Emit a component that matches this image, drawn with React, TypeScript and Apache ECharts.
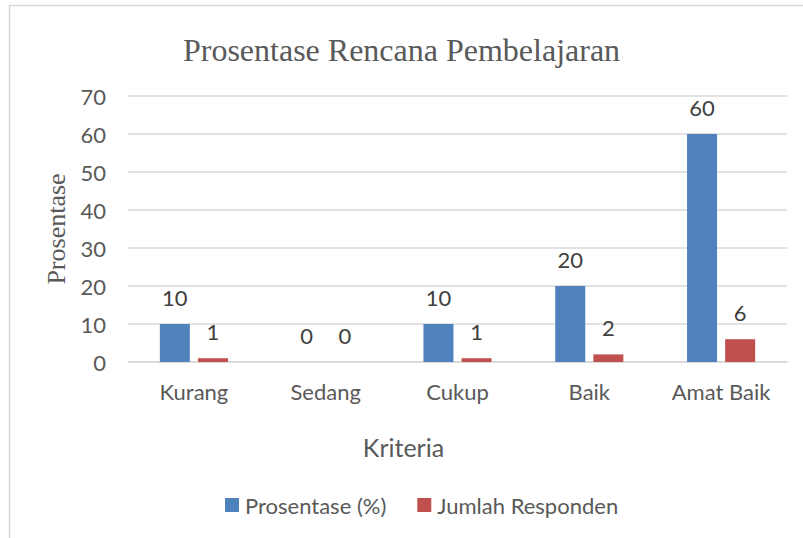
import React, { useEffect, useRef } from "react";
import * as echarts from "echarts";

const categories = ["Kurang", "Sedang", "Cukup", "Baik", "Amat Baik"];
const prosentase = [10, 0, 10, 20, 60];
const jumlahResponden = [1, 0, 1, 2, 6];
const yTicks = { min: 0, max: 70, interval: 10 };

const SANS = "Lato, 'Open Sans', sans-serif";
const SERIF = "'Liberation Serif', 'Times New Roman', serif";

export default function App() {
  const ref = useRef<HTMLDivElement>(null);
  useEffect(() => {
    if (!ref.current) return;
    const chart = echarts.init(ref.current, undefined, { renderer: "svg" });
    const labelStyle = {
      show: true,
      position: "top" as const,
      distance: 16,
      fontFamily: SANS,
      fontSize: 22,
      color: "#404040",
    };
    chart.setOption({
      animation: false,
      backgroundColor: "#ffffff",
      title: {
        text: "Prosentase Rencana Pembelajaran",
        left: "center",
        top: 29,
        textStyle: {
          fontFamily: SERIF,
          fontSize: 32,
          fontWeight: "normal",
          color: "#595959",
        },
      },
      graphic: [
        {
          type: "rect",
          shape: { x: 9.5, y: 5.5, width: 900, height: 700 },
          style: { fill: "none", stroke: "#D9D9D9", lineWidth: 1.5 },
          silent: true,
        },
      ],
      legend: {
        bottom: 17,
        left: 220,
        itemWidth: 14,
        itemHeight: 14,
        itemGap: 31,
        icon: "rect",
        textStyle: { fontFamily: SANS, fontSize: 22, color: "#595959", padding: [0, 0, 0, 1] },
        data: ["Prosentase (%)", "Jumlah Responden"],
      },
      grid: { left: 128, right: 16, top: 96, bottom: 176 },
      xAxis: {
        type: "category",
        data: categories,
        name: "Kriteria",
        nameLocation: "middle",
        nameGap: 72,
        nameTextStyle: {
          fontFamily: SANS,
          fontSize: 25,
          color: "#595959",
          padding: [0, 108, 0, 0],
        },
        axisLine: { show: true, lineStyle: { color: "#D9D9D9", width: 1.5 } },
        axisTick: { show: false },
        axisLabel: { fontFamily: SANS, fontSize: 22, color: "#595959", margin: 18 },
      },
      yAxis: {
        type: "value",
        min: yTicks.min,
        max: yTicks.max,
        interval: yTicks.interval,
        name: "Prosentase",
        nameLocation: "middle",
        nameGap: 52,
        nameTextStyle: { fontFamily: SERIF, fontSize: 26, color: "#595959" },
        axisLine: { show: false },
        axisTick: { show: false },
        axisLabel: { fontFamily: SANS, fontSize: 22, color: "#595959", margin: 22 },
        splitLine: { lineStyle: { color: "#D9D9D9", width: 1.5 } },
      },
      series: [
        {
          name: "Prosentase (%)",
          type: "bar",
          data: prosentase,
          barWidth: 30,
          barGap: "27%",
          itemStyle: { color: "#4F81BD" },
          label: labelStyle,
        },
        {
          name: "Jumlah Responden",
          type: "bar",
          data: jumlahResponden,
          barWidth: 30,
          itemStyle: { color: "#C0504D" },
          label: labelStyle,
        },
      ],
    });
    return () => chart.dispose();
  }, []);
  return (
    <div
      ref={ref}
      style={{ position: "absolute", left: 0, top: 0, width: 803, height: 538 }}
    />
  );
}
